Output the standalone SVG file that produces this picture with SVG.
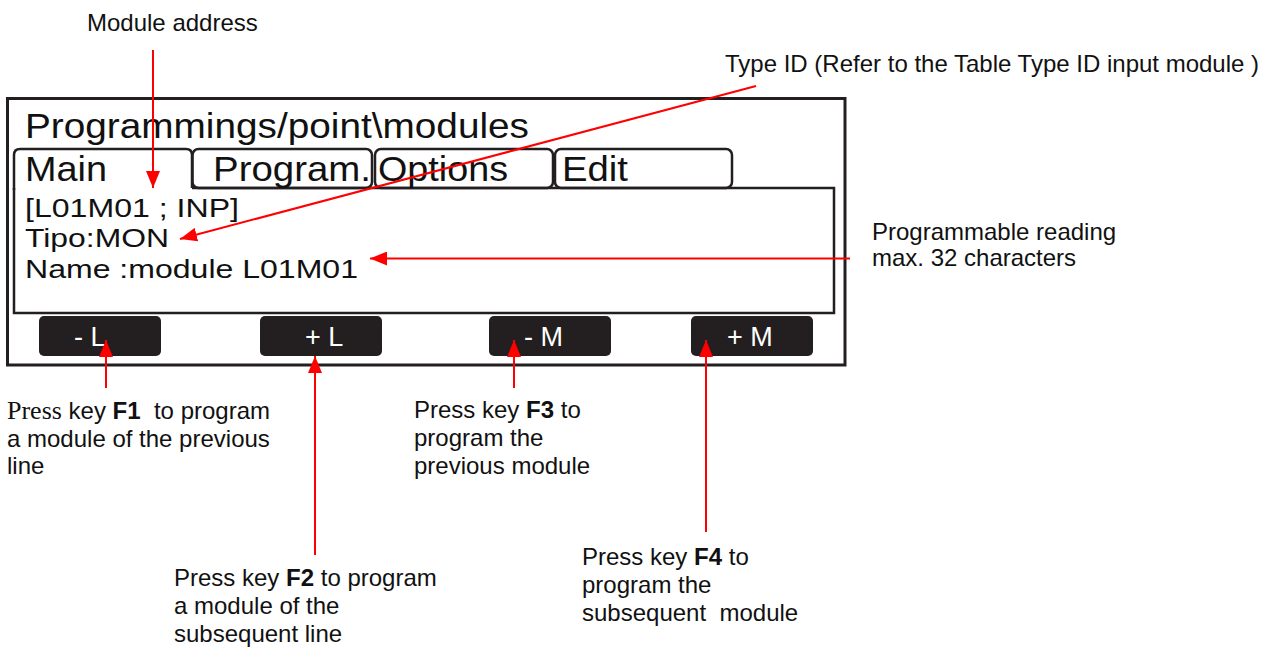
<svg xmlns="http://www.w3.org/2000/svg" width="1278" height="648" viewBox="0 0 1278 648">
  <style>
    .frame { fill: none; stroke: #231f20; stroke-width: 3; }
    .tab { fill: none; stroke: #231f20; stroke-width: 2.5; }
    .lcd { font-family: "Liberation Sans", Arial, sans-serif; fill: #111; }
    .btn { fill: #231f20; }
    .btntxt { font-family: "Liberation Sans", Arial, sans-serif; font-size: 27px; fill: #ffffff; }
    .lbl { font-family: "Liberation Sans", Arial, sans-serif; font-size: 24px; fill: #111; white-space: pre; }
    .serif { font-family: "Liberation Serif", "Times New Roman", serif; font-size: 26px; }
    .conn { stroke: #ff0000; stroke-width: 2; fill: none; marker-end: url(#ah); }
  </style>
  <defs>
    <marker id="ah" markerWidth="18" markerHeight="14" refX="17" refY="7" orient="auto" markerUnits="userSpaceOnUse">
      <path d="M0,0 L17,7 L0,14 Z" fill="#ff0000"/>
    </marker>
  </defs>
  <rect width="1278" height="648" fill="#ffffff"/>

  <g id="display">
    <rect class="frame" x="7.5" y="98.5" width="837.5" height="266.5"/>
    <text class="lcd" x="25" y="138" font-size="35" textLength="504" lengthAdjust="spacingAndGlyphs">Programmings/point\modules</text>
    <path class="tab" d="M192,188 H834 V313 H14 V188"/>
    <g id="tab-main">
      <path class="tab" d="M14,190 V155 Q14,149 20,149 H186 Q192,149 192,155 V188"/>
      <text class="lcd" x="25" y="181" font-size="35" textLength="82" lengthAdjust="spacingAndGlyphs">Main</text>
    </g>
    <g id="tab-program">
      <rect class="tab" x="192.5" y="149" width="179.5" height="39" rx="6"/>
      <text class="lcd" x="213" y="181" font-size="35" textLength="158" lengthAdjust="spacingAndGlyphs">Program.</text>
    </g>
    <g id="tab-options">
      <rect class="tab" x="375" y="149" width="178" height="39" rx="6"/>
      <text class="lcd" x="378" y="181" font-size="35" textLength="130" lengthAdjust="spacingAndGlyphs">Options</text>
    </g>
    <g id="tab-edit">
      <rect class="tab" x="555" y="149" width="177" height="39" rx="6"/>
      <text class="lcd" x="562" y="181" font-size="35" textLength="66" lengthAdjust="spacingAndGlyphs">Edit</text>
    </g>
    <text class="lcd" x="25" y="217" font-size="25" textLength="214" lengthAdjust="spacingAndGlyphs">[L01M01 ; INP]</text>
    <text class="lcd" x="25" y="247" font-size="25" textLength="144" lengthAdjust="spacingAndGlyphs">Tipo:MON</text>
    <text class="lcd" x="25" y="278" font-size="25" textLength="333" lengthAdjust="spacingAndGlyphs">Name :module L01M01</text>
  </g>

  <g id="btn-minus-l">
    <rect class="btn" x="39" y="316" width="122" height="40" rx="5"/>
    <text class="btntxt" x="74" y="346">- L</text>
  </g>
  <g id="btn-plus-l">
    <rect class="btn" x="260" y="316" width="122" height="40" rx="5"/>
    <text class="btntxt" x="305" y="346">+ L</text>
  </g>
  <g id="btn-minus-m">
    <rect class="btn" x="489" y="316" width="122" height="40" rx="5"/>
    <text class="btntxt" x="524" y="346">- M</text>
  </g>
  <g id="btn-plus-m">
    <rect class="btn" x="691" y="316" width="122" height="40" rx="5"/>
    <text class="btntxt" x="727" y="346">+ M</text>
  </g>

  <g id="label-module-address">
    <text class="lbl" x="87" y="31">Module address</text>
  </g>
  <g id="label-type-id">
    <text class="lbl" x="725" y="72">Type ID (Refer to the Table Type ID input module )</text>
  </g>
  <g id="label-reading">
    <text class="lbl" x="872" y="240">Programmable reading</text>
    <text class="lbl" x="872" y="266">max. 32 characters</text>
  </g>
  <g id="label-f1">
    <text class="lbl" x="7" y="419"><tspan class="serif">Press</tspan> key <tspan font-weight="bold">F1</tspan>  to program</text>
    <text class="lbl" x="7" y="447">a module of the previous</text>
    <text class="lbl" x="7" y="474">line</text>
  </g>
  <g id="label-f3">
    <text class="lbl" x="414" y="418">Press key <tspan font-weight="bold">F3</tspan> to</text>
    <text class="lbl" x="414" y="446">program the</text>
    <text class="lbl" x="414" y="474">previous module</text>
  </g>
  <g id="label-f2">
    <text class="lbl" x="174" y="586">Press key <tspan font-weight="bold">F2</tspan> to program</text>
    <text class="lbl" x="174" y="614">a module of the</text>
    <text class="lbl" x="174" y="642">subsequent line</text>
  </g>
  <g id="label-f4">
    <text class="lbl" x="582" y="565">Press key <tspan font-weight="bold">F4</tspan> to</text>
    <text class="lbl" x="582" y="593">program the</text>
    <text class="lbl" x="582" y="621">subsequent  module</text>
  </g>

  <g id="connectors">
    <line class="conn" x1="153" y1="50" x2="153" y2="188"/>
    <line class="conn" x1="756" y1="86" x2="180" y2="239"/>
    <line class="conn" x1="850" y1="258.5" x2="370" y2="258.5"/>
    <line class="conn" x1="106" y1="388" x2="106" y2="340"/>
    <line class="conn" x1="315" y1="555" x2="315" y2="356"/>
    <line class="conn" x1="514" y1="388" x2="514" y2="340"/>
    <line class="conn" x1="706" y1="532" x2="706" y2="340"/>
  </g>
</svg>
